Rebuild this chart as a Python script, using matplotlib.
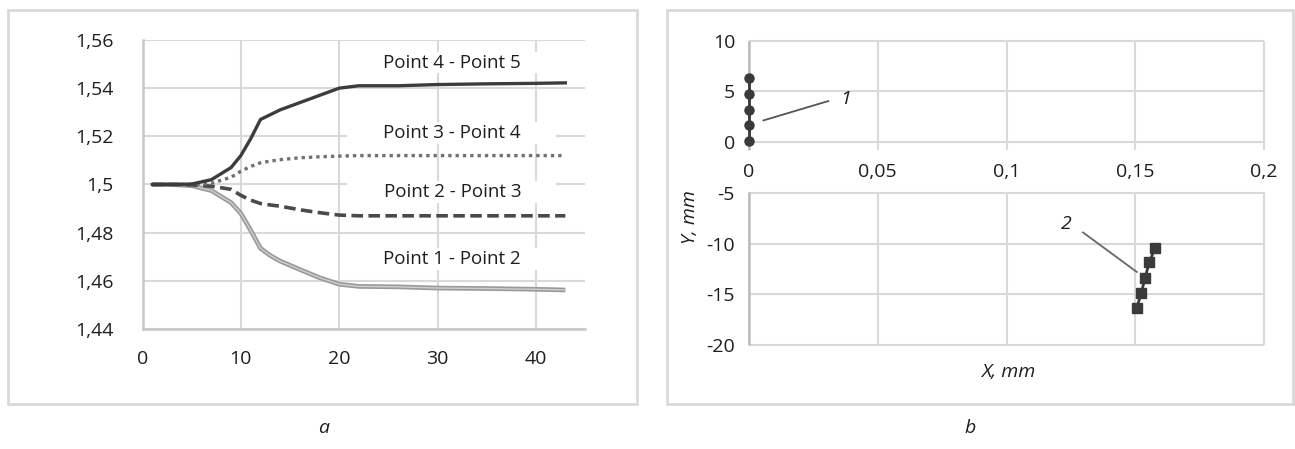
import matplotlib.pyplot as plt
from matplotlib.patches import Rectangle
from matplotlib.ticker import FuncFormatter

plt.rcParams['font.family'] = ['Open Sans', 'DejaVu Sans']
plt.rcParams['axes.unicode_minus'] = False

# ---- panel a: distance between neighbouring points ----
steps = [1, 3, 5, 7, 9, 10, 11, 12, 13, 14, 16, 18, 20, 22, 26, 30, 35, 40, 43]
p45 = [1.500, 1.500, 1.5002, 1.502, 1.507, 1.512, 1.519, 1.527, 1.529, 1.531,
       1.534, 1.537, 1.540, 1.541, 1.541, 1.5415, 1.5418, 1.542, 1.5422]
p34 = [1.500, 1.500, 1.500, 1.5005, 1.503, 1.5055, 1.5075, 1.509, 1.5097, 1.5103,
       1.5111, 1.5115, 1.5118, 1.512, 1.512, 1.512, 1.512, 1.512, 1.512]
p23 = [1.500, 1.500, 1.4998, 1.4993, 1.498, 1.4955, 1.4935, 1.4921, 1.4915, 1.491,
       1.4895, 1.4883, 1.4873, 1.487, 1.487, 1.487, 1.487, 1.487, 1.487]
p12 = [1.500, 1.500, 1.4995, 1.4975, 1.4925, 1.488, 1.481, 1.4735, 1.4705, 1.4682,
       1.4647, 1.4613, 1.4586, 1.4577, 1.4575, 1.457, 1.4568, 1.4565, 1.4562]
pair_labels = ['Point 4 - Point 5', 'Point 3 - Point 4', 'Point 2 - Point 3', 'Point 1 - Point 2']
label_y = [1.5506, 1.5214, 1.4970, 1.4690]

# ---- panel b: point positions ----
x_one = [0, 0, 0, 0, 0]
y_one = [0.1, 1.7, 3.2, 4.7, 6.3]
x_two = [0.1506, 0.1523, 0.1538, 0.1555, 0.1578]
y_two = [-16.35, -14.9, -13.4, -11.8, -10.4]

a_yticks = [1.44, 1.46, 1.48, 1.5, 1.52, 1.54, 1.56]
a_xticks = [0, 10, 20, 30, 40]
b_xticks = [0, 0.05, 0.1, 0.15, 0.2]
b_yticks = [-20, -15, -10, -5, 0, 5, 10]

grid_c = '#d9d9d9'
txt_c = '#1e1e1e'
comma = FuncFormatter(lambda v, pos: f'{v:g}'.replace('.', ','))

fig = plt.figure(figsize=(12.95, 4.49), dpi=100)

# outer frames of both panels
for x0, w in [(7.5, 629.5), (667, 626)]:
    fig.patches.append(Rectangle((x0 / 1295, 1 - 404 / 449), w / 1295, 394 / 449,
                                 transform=fig.transFigure, fill=False,
                                 edgecolor=grid_c, linewidth=2))

ax = fig.add_axes([142.5 / 1295, 1 - 329 / 449, 442.5 / 1295, 289 / 449])
ax.set_axisbelow(True)
ax.grid(True, color=grid_c, linewidth=1.5)
ax.set_xlim(0, 45)
ax.set_ylim(1.44, 1.56)
ax.set_xticks(a_xticks)
ax.set_yticks(a_yticks)
ax.yaxis.set_major_formatter(comma)
ax.tick_params(length=0, labelsize=14, colors=txt_c)
ax.tick_params(axis='y', pad=21)
ax.tick_params(axis='x', pad=15)
for s in ['top', 'right']:
    ax.spines[s].set_visible(False)
for s in ['left', 'bottom']:
    ax.spines[s].set_color('#c8c8c8')
    ax.spines[s].set_linewidth(1.8)

ax.plot(steps, p12, color='#9a9a9a', linewidth=3.4, zorder=3, solid_capstyle='butt')
ax.plot(steps, p12, color='#cfcfcf', linewidth=1.0, zorder=3)
ax.plot(steps, p23, color='#4a4a4a', linewidth=2.6, linestyle=(0, (3.2, 1.5)), zorder=3)
ax.plot(steps, p34, color='#707070', linewidth=2.4, linestyle=(0, (1, 1.2)), zorder=3)
ax.plot(steps, p45, color='#3c3c3c', linewidth=2.4, zorder=4)

for txt, ty in zip(pair_labels, label_y):
    ax.add_patch(Rectangle((20.8, ty - 0.0045), 21.3, 0.009, facecolor='white',
                           edgecolor='none', zorder=2))
    ax.text(31.5, ty, txt, ha='center', va='center', fontsize=13.5,
            color=txt_c, zorder=5)

fig.text(324 / 1295, 1 - 428 / 449, 'a', ha='center', va='center',
         fontsize=14, style='italic', color=txt_c)

# ---- panel b ----
bx = fig.add_axes([749 / 1295, 1 - 345 / 449, 515 / 1295, 304.3 / 449])
bx.set_xlim(0, 0.2)
bx.set_ylim(-20, 10)
bx.set_xticks(b_xticks)
bx.set_yticks(b_yticks)
bx.xaxis.set_major_formatter(comma)
bx.tick_params(length=0, labelsize=14, colors=txt_c)
bx.tick_params(axis='y', pad=10)
bx.tick_params(axis='x', pad=15)
for s in bx.spines.values():
    s.set_visible(False)
bx.spines['bottom'].set_position(('data', 0))

# grid lines with a gap behind the x tick labels
band_lo, band_hi = -4.9, -0.8
bx.vlines(b_xticks, -20, band_lo, colors=grid_c, linewidth=1.5, zorder=1, clip_on=False)
bx.vlines(b_xticks, band_hi, 10, colors=grid_c, linewidth=1.5, zorder=1, clip_on=False)
bx.hlines(b_yticks, 0, 0.2, colors=grid_c, linewidth=1.5, zorder=1, clip_on=False)
bx.vlines([0], band_hi, 10, colors='#bdbdbd', linewidth=1.8, zorder=1, clip_on=False)
bx.vlines([0], -20, band_lo, colors='#bdbdbd', linewidth=1.8, zorder=1, clip_on=False)

bx.plot(x_one, y_one, color='#3a3a3a', linewidth=2, marker='o', markersize=6.5,
        zorder=4, clip_on=False)
bx.plot(x_two, y_two, color='#3a3a3a', linewidth=2, marker='s', markersize=6.5,
        zorder=4, clip_on=False)

bx.plot([0.0056, 0.0308], [2.14, 4.05], color='#555555', linewidth=1.3, zorder=3)
bx.text(0.0373, 4.3, '1', ha='center', va='center', fontsize=14, style='italic',
        color=txt_c)
bx.plot([0.1297, 0.1506], [-8.9, -12.8], color='#666666', linewidth=1.3, zorder=3)
bx.text(0.1233, -8.1, '2', ha='center', va='center', fontsize=14, style='italic',
        color=txt_c)

fig.text(690 / 1295, 1 - 217 / 449, 'Y, mm', rotation=90, ha='center', va='center',
         fontsize=14, style='italic', color=txt_c)
fig.text(1008 / 1295, 1 - 372 / 449, 'X, mm', ha='center', va='center',
         fontsize=14, style='italic', color=txt_c)
fig.text(970 / 1295, 1 - 428 / 449, 'b', ha='center', va='center',
         fontsize=14, style='italic', color=txt_c)

fig.savefig('out.png', dpi=100)
